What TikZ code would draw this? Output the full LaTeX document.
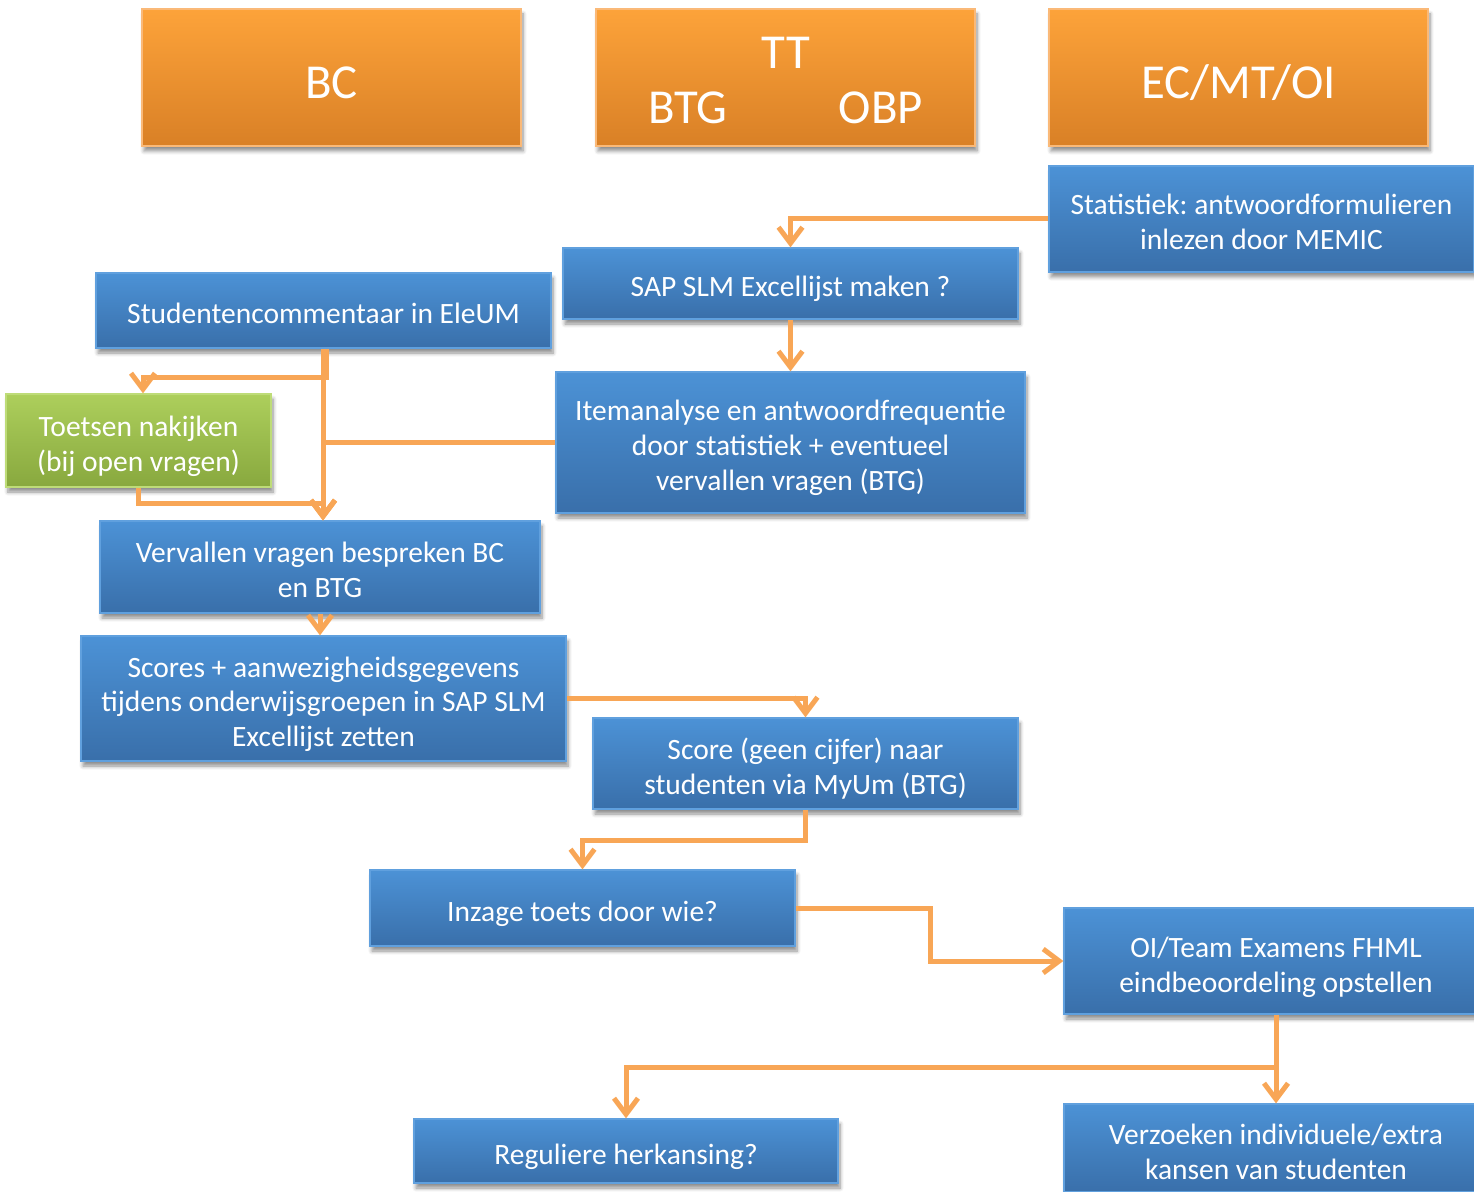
\documentclass[tikz,border=0pt]{standalone}
\usepackage{fontspec}
\setmainfont{Carlito}
\frenchspacing
\usetikzlibrary{arrows.meta,shadows.blur,calc}

\definecolor{bluetop}{RGB}{76,146,214}
\definecolor{bluebot}{RGB}{57,111,170}
\definecolor{blueedge}{RGB}{96,160,222}
\definecolor{orgtop}{RGB}{253,163,58}
\definecolor{orgbot}{RGB}{217,128,38}
\definecolor{orgedge}{RGB}{250,185,120}
\definecolor{grntop}{RGB}{173,207,92}
\definecolor{grnbot}{RGB}{136,168,62}
\definecolor{grnedge}{RGB}{190,220,120}
\definecolor{flowline}{RGB}{248,166,86}

\begin{document}
\begin{tikzpicture}[x=0.5pt,y=-0.5pt,
  box/.style={rectangle, inner sep=2pt, align=center, text=white,
    font=\fontsize{14.75}{17.5}\selectfont, line width=0.6pt,
    text depth=4pt, lines=1,
    blur shadow={shadow xshift=1pt, shadow yshift=-2.5pt,
      shadow blur steps=6, shadow opacity=45}},
  % fixed text box height per number of lines keeps baselines consistent
  lines/.style={text height=#1*17.5pt},
  bluebox/.style={box, top color=bluetop, bottom color=bluebot, draw=blueedge},
  greenbox/.style={box, top color=grntop, bottom color=grnbot, draw=grnedge},
  hdr/.style={rectangle, inner sep=2pt, text=white, line width=0.6pt,
    top color=orgtop, bottom color=orgbot, draw=orgedge,
    blur shadow={shadow xshift=1pt, shadow yshift=-2.5pt,
      shadow blur steps=6, shadow opacity=45},
    minimum width=189.5pt, minimum height=68.5pt,
    font=\fontsize{24.4}{28}\selectfont, text height=21.2pt, text depth=0pt},
  hdrtext/.style={inner sep=0pt, text=white, font=\fontsize{24.4}{28}\selectfont,
    text height=15.7pt, text depth=0pt},
  flow/.style={draw=flowline, line width=2.5pt, line join=miter,
    -{Straight Barb[length=8pt,width=12pt]}}
]
\useasboundingbox (0,0) rectangle (1474,1192);

% column headers
\node[hdr] (bc) at (331.5,77.5) {BC};
\node[hdr] (tt) at (785.5,77.5) {};
\node[hdrtext] (ttT) at (786,53) {TT};
\node[hdrtext] (ttB) at (688,108) {BTG};
\node[hdrtext] (ttO) at (881,108) {OBP};
\node[hdr] (ec) at (1238.5,77.5) {EC/MT/OI};

% process steps
\node[bluebox, lines=2, minimum width=212.5pt, minimum height=53pt] (stat) at (1261.5,219)
  {Statistiek: antwoordformulieren\\inlezen door MEMIC};
\node[bluebox, minimum width=227.5pt, minimum height=35.5pt] (sap) at (790.5,283.5)
  {SAP SLM Excellijst maken ?};
\node[bluebox, minimum width=227.5pt, minimum height=37.5pt] (stud) at (323.5,310.5)
  {Studentencommentaar in EleUM};
\node[greenbox, lines=2, minimum width=132.5pt, minimum height=46.5pt] (toets) at (138.5,440.5)
  {Toetsen nakijken\\(bij open vragen)};
\node[bluebox, lines=3, minimum width=234.5pt, minimum height=70.5pt] (item) at (790.5,442.5)
  {Itemanalyse en antwoordfrequentie\\door statistiek + eventueel\\vervallen vragen (BTG)};
\node[bluebox, lines=2, minimum width=220pt, minimum height=46pt] (verv) at (320,567)
  {Vervallen vragen bespreken BC\\en BTG};
\node[bluebox, lines=3, minimum width=242.5pt, minimum height=62.5pt] (scores) at (323.5,698.5)
  {Scores + aanwezigheidsgegevens\\tijdens onderwijsgroepen in SAP SLM\\Excellijst zetten};
\node[bluebox, lines=2, minimum width=212.5pt, minimum height=45.5pt] (score) at (805.5,763.5)
  {Score (geen cijfer) naar\\studenten via MyUm (BTG)};
\node[bluebox, minimum width=212.5pt, minimum height=38pt] (inzage) at (582.5,908)
  {Inzage toets door wie?};
\node[bluebox, lines=2, minimum width=212pt, minimum height=53pt] (oi) at (1276,961)
  {OI/Team Examens FHML\\eindbeoordeling opstellen};
\node[bluebox, minimum width=212pt, minimum height=32pt] (reg) at (626,1151)
  {Reguliere herkansing?};
\node[bluebox, lines=2, minimum width=212pt, minimum height=44pt] (verz) at (1276,1148)
  {Verzoeken individuele/extra\\kansen van studenten};

% shared trunk into "Vervallen vragen"
\coordinate (trunk) at (323,0);

% connectors
\draw[flow] (stat.west) -| (sap.north);
\draw[flow] (sap.south) -- (item.north);
\draw[flow] ([xshift=1.5pt]stud.south -| trunk) -- ++(0,29) -| ([xshift=2.25pt]toets.north);
\draw[flow] (stud.south -| trunk) -- (verv.north -| trunk);
\draw[flow] (item.west) -| (verv.north -| trunk);
\draw[flow] (toets.south) -- ++(0,16) -| (verv.north -| trunk);
\draw[flow] (verv.south) -- (verv.south |- scores.north);
\draw[flow] (scores.east) -| (score.north);
\draw[flow] (score.south) -- ++(0,31) -| (inzage.north);
\draw[flow] (inzage.east) -- ++(135,0) |- (oi.west);
\draw[flow] (oi.south) -- ++(0,53) -| (reg.north);
\draw[flow] (oi.south) -- (verz.north);
\end{tikzpicture}
\end{document}
